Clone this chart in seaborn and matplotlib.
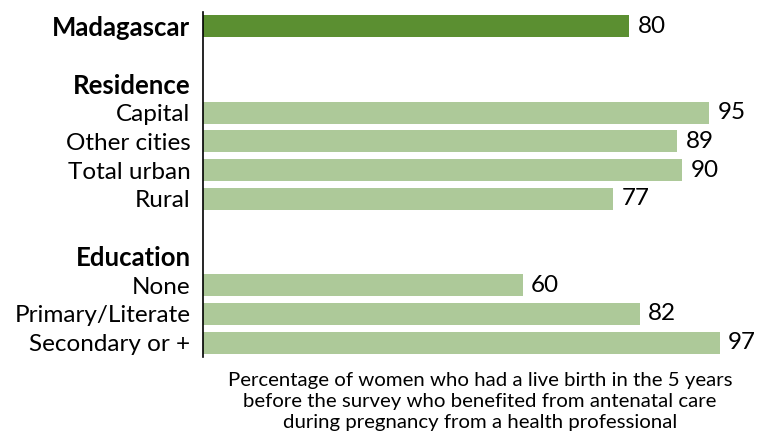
import matplotlib
matplotlib.use("Agg")
import matplotlib.pyplot as plt
import seaborn as sns
import pandas as pd
import numpy as np

# rows from top to bottom; headers have no value
labels = ["Madagascar", "", "Residence", "Capital", "Other cities", "Total urban", "Rural",
          "", "Education", "None", "Primary/Literate", "Secondary or +"]
values = [80, np.nan, np.nan, 95, 89, 90, 77, np.nan, np.nan, 60, 82, 97]
kinds = ["total", "blank", "header", "sub", "sub", "sub", "sub",
         "blank", "header", "sub", "sub", "sub"]
caption = ("Percentage of women who had a live birth in the 5 years\n"
           "before the survey who benefited from antenatal care\n"
           "during pregnancy from a health professional")

dark_green = "#5b8f31"
light_green = "#adc999"

df = pd.DataFrame({"row": [f"r{i}" for i in range(len(labels))],
                   "label": labels, "value": values, "kind": kinds})

sns.set_style("white")
plt.rcParams['font.family'] = ['Lato', 'DejaVu Sans']
plt.rcParams['text.color'] = 'black'

fig = plt.figure(figsize=(7.57, 4.40), dpi=100)
ax = fig.add_axes([203 / 757, 1 - 357 / 440, 1 - 203 / 757, 345 / 440])

sns.barplot(data=df, x="value", y="row", hue="kind", orient="h",
            palette={"total": dark_green, "sub": light_green,
                     "header": light_green, "blank": light_green},
            width=0.76, dodge=False, legend=False, ax=ax, saturation=1,
            linewidth=0)

ax.set_xlim(0, 104)
ax.set_ylim(len(labels) - 0.5, -0.5)
ax.set_xlabel("")
ax.set_ylabel("")
ax.set_xticks([])
ax.set_yticks(range(len(labels)))
ax.set_yticklabels(labels)
ax.tick_params(axis="y", length=0, pad=9)
for t, k in zip(ax.get_yticklabels(), kinds):
    t.set_fontsize(17.5)
    t.set_color("black")
    if k in ("total", "header"):
        t.set_fontweight("bold")
        t.set_fontsize(18.5)

for s in ["top", "right", "bottom"]:
    ax.spines[s].set_visible(False)
ax.spines["left"].set_color("black")
ax.spines["left"].set_linewidth(1.2)

for i, v in enumerate(values):
    if not np.isnan(v):
        ax.text(v + 1.6, i, f"{v:.0f}", va="center", ha="left", fontsize=17.5,
                color="black")

fig.text((203 + 757) / 2 / 757, 1 - 372 / 440, caption, ha="center", va="top",
         fontsize=14.7, linespacing=1.3, color="black")

fig.savefig("out.png", dpi=100)
